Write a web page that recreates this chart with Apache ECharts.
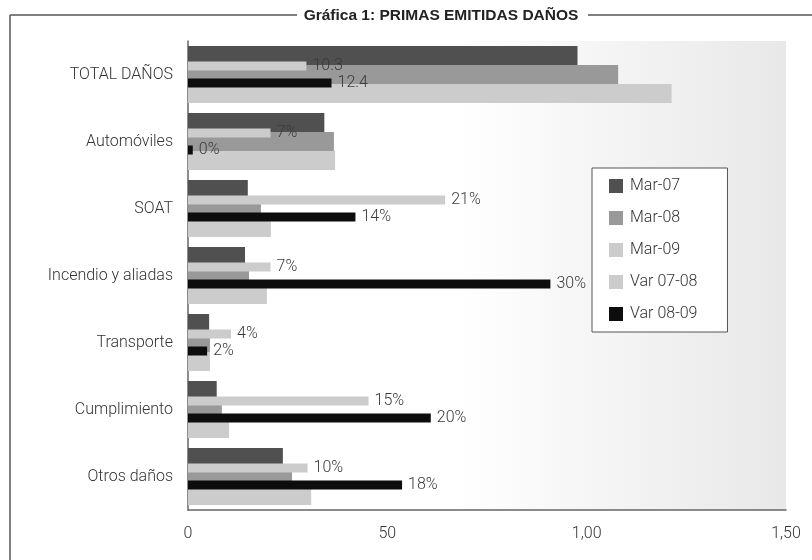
<!DOCTYPE html>
<html>
<head>
<meta charset="utf-8">
<script src="https://cdn.jsdelivr.net/npm/echarts@6/dist/echarts.min.js"></script>
<style>
  html, body { margin: 0; padding: 0; background: #ffffff; }
  #chart { width: 812px; height: 560px; }
</style>
</head>
<body>
<div id="chart"></div>
<script>
// ---- Data ----
var categories = ['TOTAL DAÑOS', 'Automóviles', 'SOAT', 'Incendio y aliadas', 'Transporte', 'Cumplimiento', 'Otros daños'];
var mar07 = [97.7, 34.2, 15.0, 14.3, 5.3, 7.2, 23.8];
var mar08 = [107.9, 36.6, 18.3, 15.3, 5.5, 8.5, 26.1];
var mar09 = [121.3, 36.9, 20.8, 19.8, 5.5, 10.3, 30.9];
var var0708 = [9.9, 6.9, 21.5, 6.9, 3.6, 15.1, 10.0];
var var0809 = [12.0, 0.4, 14.0, 30.3, 1.6, 20.3, 17.9];
var labels0708 = ['10.3', '7%', '21%', '7%', '4%', '15%', '10%'];
var labels0809 = ['12.4', '0%', '14%', '30%', '2%', '20%', '18%'];
var xTickValues = [0, 50, 100, 150];
var xTickLabels = ['0', '50', '1,00', '1,50'];
var titleText = 'Gráfica 1: PRIMAS EMITIDAS DAÑOS';

var FONT = '"Liberation Sans", Arial, sans-serif';
var LIGHT = 'Roboto, "Liberation Sans", sans-serif';

var chart = echarts.init(document.getElementById('chart'), null, { renderer: 'canvas' });

function labelFrom(arr) {
  return {
    show: true,
    position: 'right',
    distance: 6,
    fontFamily: LIGHT,
    fontWeight: 300,
    fontSize: 16,
    color: '#3a3a3a',
    formatter: function (p) { return arr[p.dataIndex]; }
  };
}

var option = {
  backgroundColor: '#ffffff',
  animation: false,
  textStyle: { fontFamily: LIGHT },
  graphic: [
    { type: 'line', shape: { x1: 10, y1: 15, x2: 10, y2: 600 }, style: { stroke: '#555555', lineWidth: 1.5 }, silent: true },
    { type: 'line', shape: { x1: 10, y1: 15, x2: 297, y2: 15 }, style: { stroke: '#555555', lineWidth: 1.5 }, silent: true },
    { type: 'line', shape: { x1: 588, y1: 15, x2: 820, y2: 15 }, style: { stroke: '#555555', lineWidth: 1.5 }, silent: true },
    { type: 'text', x: 441, y: 16, style: { text: titleText, fontFamily: FONT, fontWeight: 'bold', fontSize: 15.5, fill: '#222222', align: 'center', verticalAlign: 'middle' }, silent: true }
  ],
  grid: {
    left: 188, right: 26, top: 41, bottom: 50,
    show: true,
    borderWidth: 0,
    backgroundColor: new echarts.graphic.LinearGradient(0, 0, 1, 0, [
      { offset: 0, color: '#ffffff' },
      { offset: 0.45, color: '#ffffff' },
      { offset: 1, color: '#e8e8e8' }
    ])
  },
  legend: {
    orient: 'vertical',
    left: 592, top: 168,
    padding: [10, 30, 10, 17],
    itemWidth: 14, itemHeight: 14, itemGap: 16,
    icon: 'rect',
    backgroundColor: '#ffffff',
    borderColor: '#555555',
    borderWidth: 1,
    textStyle: { fontFamily: LIGHT, fontWeight: 300, fontSize: 16, color: '#333333', padding: [0, 0, 0, 2] },
    data: ['Mar-07', 'Mar-08', 'Mar-09', 'Var 07-08', 'Var 08-09']
  },
  xAxis: [
    {
      type: 'value', min: 0, max: 150, interval: 50,
      axisLine: { show: true, onZero: false, lineStyle: { color: '#666666', width: 1.5 } },
      axisTick: { show: false },
      splitLine: { show: false },
      axisLabel: {
        margin: 16, fontFamily: LIGHT, fontWeight: 300, fontSize: 16, color: '#333333',
        formatter: function (v) { var i = xTickValues.indexOf(v); return i >= 0 ? xTickLabels[i] : ''; }
      }
    },
    { type: 'value', min: 0, max: 50, show: false, splitLine: { show: false } }
  ],
  yAxis: [
    {
      type: 'category', inverse: true, data: categories,
      axisLine: { show: true, lineStyle: { color: '#666666', width: 1.5 } },
      axisTick: { show: false },
      axisLabel: { margin: 15, fontFamily: LIGHT, fontWeight: 300, fontSize: 16, color: '#333333' }
    },
    { type: 'category', inverse: true, data: categories, show: false }
  ],
  series: [
    { name: 'Mar-07', type: 'bar', xAxisIndex: 0, yAxisIndex: 0, data: mar07, barWidth: 19, barGap: '0%', itemStyle: { color: '#505050' } },
    { name: 'Mar-08', type: 'bar', xAxisIndex: 0, yAxisIndex: 0, data: mar08, barWidth: 19, barGap: '0%', itemStyle: { color: '#999999' } },
    { name: 'Mar-09', type: 'bar', xAxisIndex: 0, yAxisIndex: 0, data: mar09, barWidth: 19, barGap: '0%', itemStyle: { color: '#cccccc' } },
    { name: 'Var 07-08', type: 'bar', xAxisIndex: 1, yAxisIndex: 1, data: var0708, barWidth: 9, barGap: '89%', itemStyle: { color: '#cccccc' }, label: labelFrom(labels0708) },
    { name: 'Var 08-09', type: 'bar', xAxisIndex: 1, yAxisIndex: 1, data: var0809, barWidth: 9, barGap: '89%', itemStyle: { color: '#0d0d0d' }, label: labelFrom(labels0809) }
  ]
};

chart.setOption(option);
</script>
</body>
</html>
